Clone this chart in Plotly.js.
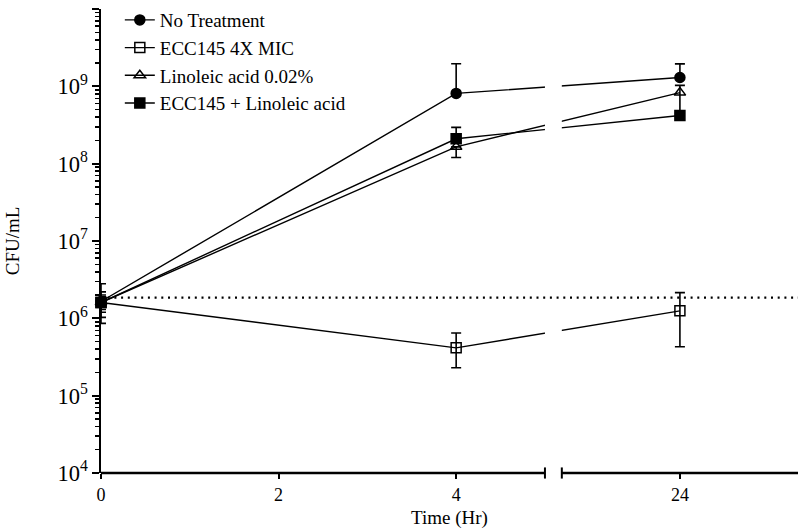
<!DOCTYPE html>
<html><head><meta charset="utf-8">
<script src="https://cdn.plot.ly/plotly-3.0.1.min.js"></script>
<style>html,body{margin:0;padding:0;background:#fff}#chart{width:800px;height:529px}</style>
</head><body><div id="chart"></div>
<script>
// ---- data ----
const hours = [0, 4, 24];
const xTickHours = [0, 2, 4, 24];
const xTickLabels = ['0', '2', '4', '24'];
const seriesNames = ['No Treatment', 'ECC145 4X MIC', 'Linoleic acid 0.02%', 'ECC145 + Linoleic acid'];
const noTreatment = [1.65e6, 8.1e8, 1.3e9];
const noTreatmentErrUp = [1.15e6, 1.15e9, 0.65e9];
const noTreatmentErrDown = [0.45e6, 0, 0];
const ecc145 = [1.6e6, 4.15e5, 1.25e6];
const ecc145ErrUp = [0.6e6, 2.3e5, 0.9e6];
const ecc145ErrDown = [0.74e6, 1.85e5, 0.82e6];
const linoleic = [1.6e6, 1.65e8, 8.3e8];
const linoleicErrUp = [0.4e6, 0, 2.0e8];
const linoleicErrDown = [0.57e6, 0.45e8, 3.8e8];
const combo = [1.6e6, 2.1e8, 4.2e8];
const comboErrUp = [0.3e6, 0.85e8, 0];
const comboErrDown = [0.3e6, 0, 0];
const threshold = 1.85e6;

// broken x axis (hours)
const seg1End = 5, gapEnd = 5.19, seg2Start = 22.67, xMax = 25.33;

function hr(h) {
  return new Date(Date.UTC(2000, 0, 1) + h * 3600e3).toISOString().replace('T', ' ').replace('Z', '');
}

function trace(name, y, up, down, symbol) {
  return {
    type: 'scatter', mode: 'lines+markers', name: name,
    x: hours.map(hr), y: y, cliponaxis: false,
    line: {color: 'black', width: 1.4},
    marker: {symbol: symbol, size: 10, color: 'black', line: {color: 'black', width: 1.5}},
    error_y: {type: 'data', symmetric: false, array: up, arrayminus: down,
              color: 'black', thickness: 1.6, width: 5}
  };
}

const data = [
  trace(seriesNames[0], noTreatment, noTreatmentErrUp, noTreatmentErrDown, 'circle'),
  trace(seriesNames[1], ecc145, ecc145ErrUp, ecc145ErrDown, 'square-open'),
  trace(seriesNames[2], linoleic, linoleicErrUp, linoleicErrDown, 'triangle-up-open'),
  trace(seriesNames[3], combo, comboErrUp, comboErrDown, 'square')
];

const axLine = {color: 'black', width: 2.5};
const layout = {
  width: 800, height: 529,
  margin: {l: 101, r: 2, t: 8, b: 56},
  paper_bgcolor: 'white', plot_bgcolor: 'white',
  font: {family: '"Liberation Serif", "Times New Roman", serif', size: 18, color: 'black'},
  showlegend: true,
  legend: {x: 0.027, y: 1.015, xanchor: 'left', yanchor: 'top', font: {size: 19, color: 'black'},
           bgcolor: 'rgba(0,0,0,0)', itemwidth: 30},
  xaxis: {
    type: 'date', range: [hr(0), hr(xMax)], autorange: false,
    rangebreaks: [{bounds: [hr(gapEnd), hr(seg2Start)]}],
    tickmode: 'array', tickvals: xTickHours.map(hr), ticktext: xTickLabels,
    ticks: 'outside', ticklen: 5, tickwidth: 2, tickcolor: 'black',
    tickfont: {color: 'black'},
    showline: false, showgrid: false, zeroline: false,
    title: {text: 'Time (Hr)', font: {size: 19, color: 'black'}, standoff: 8}
  },
  yaxis: {
    type: 'log', range: [4, 10], autorange: false, dtick: 1, exponentformat: 'power',
    ticks: 'outside', ticklen: 7, tickwidth: 2, tickcolor: 'black',
    tickfont: {color: 'black'},
    showline: true, linewidth: 2.5, linecolor: 'black',
    showgrid: false, zeroline: false,
    minor: {ticks: 'outside', ticklen: 4, tickwidth: 1.5, tickcolor: 'black', dtick: 'D1', showgrid: false},
    title: {text: 'CFU/mL', font: {size: 19, color: 'black'}, standoff: 33}
  },
  shapes: [
    {type: 'rect', layer: 'above', xref: 'x', yref: 'paper', x0: hr(seg1End), x1: hr(gapEnd),
     y0: 0.006, y1: 1, fillcolor: 'white', line: {width: 0}},
    {type: 'line', layer: 'above', xref: 'paper', yref: 'y', x0: 0, x1: 1,
     y0: threshold, y1: threshold,
     line: {color: 'black', width: 2.2, dash: '2px,4.7px'}},
    {type: 'line', layer: 'above', xref: 'x', yref: 'paper', x0: hr(0), x1: hr(seg1End), y0: 0, y1: 0, line: axLine},
    {type: 'line', layer: 'above', xref: 'x', yref: 'paper', x0: hr(seg1End), x1: hr(seg1End), y0: -0.012, y1: 0.012, line: {color: 'black', width: 2}},
    {type: 'line', layer: 'above', xref: 'x', yref: 'paper', x0: hr(seg2Start), x1: hr(xMax), y0: 0, y1: 0, line: axLine},
    {type: 'line', layer: 'above', xref: 'x', yref: 'paper', x0: hr(seg2Start), x1: hr(seg2Start), y0: -0.012, y1: 0.012, line: {color: 'black', width: 2}}
  ]
};

Plotly.newPlot('chart', data, layout, {displayModeBar: false, staticPlot: true});
</script>
</body></html>
